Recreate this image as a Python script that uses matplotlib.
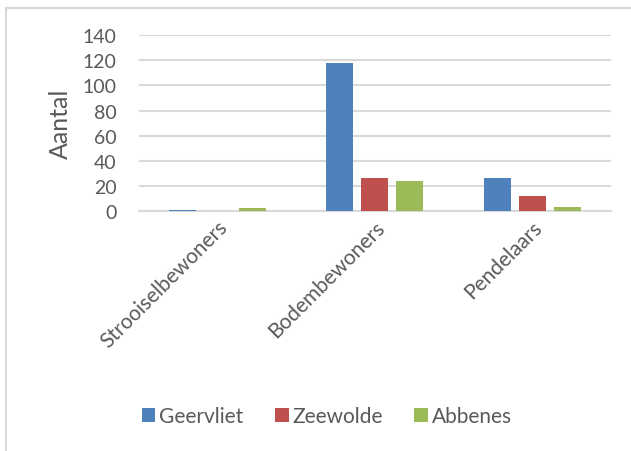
import matplotlib.pyplot as plt
import matplotlib.transforms as mtransforms
from matplotlib.lines import Line2D
import numpy as np

plt.rcParams['font.family'] = ['Lato', 'DejaVu Sans']

categories = ['Strooiselbewoners', 'Bodembewoners', 'Pendelaars']
series = ['Geervliet', 'Zeewolde', 'Abbenes']
geervliet = [1, 118, 26]
zeewolde = [0, 26, 12]
abbenes = [2, 24, 3]
colors = ['#4F81BD', '#C0504D', '#9BBB59']
yticks = [0, 20, 40, 60, 80, 100, 120, 140]

text_col = '#595959'
grid_col = '#D9D9D9'

fig = plt.figure(figsize=(6.31, 4.52), dpi=100)
ax = fig.add_axes([0.220, 0.531, 0.748, 0.389])

x = np.arange(len(categories))
width = 0.172
step = 0.223
for k, (name, vals) in enumerate(zip(series, [geervliet, zeewolde, abbenes])):
    ax.bar(x + (k - 1) * step, vals, width, color=colors[k], label=name, zorder=3)

ax.set_xlim(-0.5, len(categories) - 0.5)
ax.set_ylim(0, 140)
ax.set_yticks(yticks)
ax.set_yticklabels([str(t) for t in yticks], fontsize=14, color=text_col)
ax.set_xticks(x)
ax.set_xticklabels(categories, rotation=45, ha='right', rotation_mode='anchor',
                   fontsize=15, color=text_col)
# nudge the slanted category names a little to the right
shift = mtransforms.ScaledTranslation(6 / 100, 0, fig.dpi_scale_trans)
for lbl in ax.get_xticklabels():
    lbl.set_transform(lbl.get_transform() + shift)
ax.tick_params(axis='both', length=0)
ax.tick_params(axis='y', pad=16)
ax.tick_params(axis='x', pad=4)
ax.grid(axis='y', color=grid_col, linewidth=1.5, zorder=0)
for side in ['top', 'right', 'left']:
    ax.spines[side].set_visible(False)
ax.spines['bottom'].set_color(grid_col)
ax.spines['bottom'].set_linewidth(1.5)

ax.set_ylabel('Aantal', fontsize=18, color=text_col, labelpad=8)

# outer chart border (left and top edges)
fig.add_artist(Line2D([6 / 631, 6 / 631], [0, 1 - 9 / 452], transform=fig.transFigure,
                      color=grid_col, linewidth=1.5))
fig.add_artist(Line2D([6 / 631, 1], [1 - 9 / 452, 1 - 9 / 452], transform=fig.transFigure,
                      color=grid_col, linewidth=1.5))

leg = fig.legend(loc='center', bbox_to_anchor=(327 / 631, 1 - 417 / 452), ncol=3,
                 frameon=False, fontsize=15, handlelength=0.65, handleheight=0.65,
                 handletextpad=0.2, columnspacing=1.5, labelcolor=text_col)

fig.savefig('out.png', dpi=100)
